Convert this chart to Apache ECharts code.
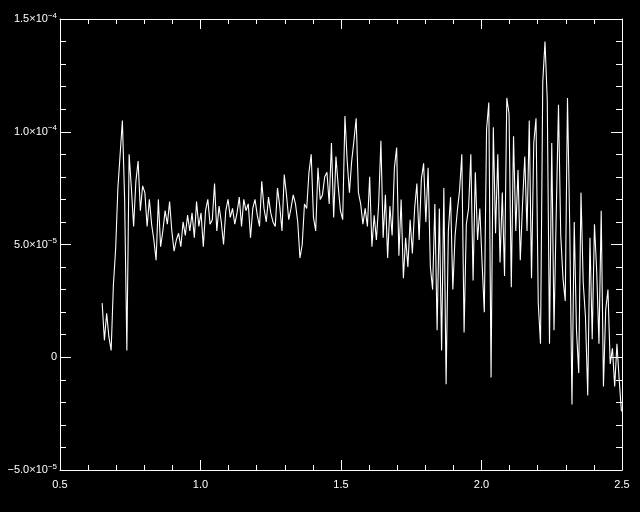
<!DOCTYPE html>
<html>
<head>
<meta charset="utf-8">
<style>
  html, body { margin: 0; padding: 0; background: #000; }
  #chart { width: 640px; height: 512px; }
</style>
<script src="https://cdn.jsdelivr.net/npm/echarts@6/dist/echarts.min.js"></script>
</head>
<body>
<div id="chart"></div>
<script>
// Wavelength sampling grid (uniform)
const X_START = 0.65;
const X_STEP = 0.008;

// Flux values, in units of 1e-5
const FLUX_E5 = [
  2.4, 0.75, 1.95, 0.9, 0.3, 3.2, 4.8, 7.5, 9.0, 10.5,
  7.0, 0.3, 9.0, 7.5, 5.8, 7.8, 8.7, 6.5, 7.6, 7.3,
  5.8, 7.0, 5.9, 5.2, 4.3, 7.0, 4.9, 5.6, 6.5, 5.9,
  6.9, 5.6, 4.7, 5.2, 5.5, 4.9, 6.0, 5.4, 6.3, 5.6,
  6.4, 5.3, 6.9, 5.8, 6.4, 4.9, 6.5, 7.0, 5.9, 6.1,
  7.7, 5.6, 6.7, 6.0, 5.0, 6.5, 7.0, 6.2, 6.6, 5.9,
  6.4, 7.1, 5.8, 7.0, 6.5, 6.8, 5.3, 6.6, 7.0, 6.3,
  5.8, 7.8, 6.6, 6.0, 7.1, 6.4, 6.0, 5.8, 7.5, 6.7,
  5.6, 8.1, 7.2, 6.1, 6.6, 7.2, 6.8, 6.0, 4.4, 5.0,
  6.8, 6.6, 8.2, 9.0, 6.2, 5.6, 8.4, 7.0, 7.2, 8.0,
  8.2, 6.8, 9.5, 6.2, 8.9, 7.6, 6.5, 6.1, 10.7, 8.7,
  7.3, 8.7, 9.6, 10.6, 7.3, 6.8, 5.9, 6.6, 5.8, 8.0,
  4.9, 6.3, 5.2, 6.8, 9.6, 5.3, 7.2, 4.4, 6.7, 5.4,
  8.4, 9.3, 4.5, 7.0, 3.5, 5.3, 4.0, 6.1, 4.6, 6.6,
  7.7, 5.2, 7.9, 8.6, 6.0, 8.4, 4.0, 3.0, 6.8, 1.2,
  6.6, 0.3, 7.5, -1.2, 5.6, 7.1, 3.0, 5.4, 6.5, 7.4,
  9.0, 1.1, 5.9, 6.6, 9.0, 3.4, 8.2, 5.2, 6.6, 4.2,
  2.0, 10.1, 11.3, -0.9, 10.2, 5.5, 9.0, 4.2, 7.3, 3.6,
  11.5, 10.8, 3.1, 9.8, 5.6, 8.3, 4.3, 6.8, 8.9, 5.6,
  10.5, 3.5, 9.5, 10.6, 2.4, 0.6, 12.2, 14.0, 11.4, 0.6,
  9.5, 1.2, 6.4, 11.2, 5.4, 3.5, 2.5, 11.5, 5.8, -2.1,
  6.0, 1.2, -0.7, 7.3, 3.3, 1.8, -1.7, 5.3, 0.8, 5.9,
  3.8, 0.6, 6.5, -1.3, 2.1, 3.0, -0.3, 0.4, -1.3, 0.6,
  -1.0, -2.4
];

// Tick labels
const X_TICKS = ['0.5', '1.0', '1.5', '2.0', '2.5'];
// [mantissa part, exponent] for y ticks at -5, 0, 5, 10, 15 (x1e-5)
const Y_TICKS = [
  ['\u22125.0\u00d710', '\u22125'],
  ['0', ''],
  ['5.0\u00d710', '\u22125'],
  ['1.0\u00d710', '\u22124'],
  ['1.5\u00d710', '\u22124']
];

const FONT = 'Liberation Sans';
const WHITE = '#ffffff';

const data = FLUX_E5.map((v, i) => [X_START + i * X_STEP, v]);

const chart = echarts.init(document.getElementById('chart'), null, { renderer: 'canvas' });

const commonAxisLine = { show: true, onZero: false, lineStyle: { color: WHITE, width: 1 } };

const option = {
  backgroundColor: '#000000',
  animation: false,
  grid: { left: 60, right: 18, top: 19, bottom: 42, containLabel: false },
  xAxis: [
    {
      type: 'value', min: 0.5, max: 2.5, interval: 0.5, position: 'bottom',
      axisLine: commonAxisLine,
      axisTick: { show: true, inside: true, length: 10, lineStyle: { color: WHITE } },
      minorTick: { show: true, splitNumber: 5, length: 5, lineStyle: { color: WHITE } },
      splitLine: { show: false },
      minorSplitLine: { show: false },
      axisLabel: {
        show: true, margin: 9, color: WHITE, fontFamily: FONT, fontSize: 11,
        formatter: function (v) { return X_TICKS[Math.round((v - 0.5) / 0.5)]; }
      }
    },
    {
      type: 'value', min: 0.5, max: 2.5, interval: 0.5, position: 'top',
      axisLine: commonAxisLine,
      axisTick: { show: true, inside: true, length: 10, lineStyle: { color: WHITE } },
      minorTick: { show: true, splitNumber: 5, length: 5, lineStyle: { color: WHITE } },
      splitLine: { show: false },
      axisLabel: { show: false }
    }
  ],
  yAxis: [
    {
      type: 'value', min: -5, max: 15, interval: 5, position: 'left',
      axisLine: commonAxisLine,
      axisTick: { show: true, inside: true, length: 11, lineStyle: { color: WHITE } },
      minorTick: { show: true, splitNumber: 5, length: 6, lineStyle: { color: WHITE } },
      splitLine: { show: false },
      minorSplitLine: { show: false },
      axisLabel: {
        show: true, margin: 3, color: WHITE, fontFamily: FONT, fontSize: 11,
        formatter: function (v) {
          const t = Y_TICKS[Math.round((v + 5) / 5)];
          return t[1] ? '{m|' + t[0] + '}{s|' + t[1] + '}' : '{m|' + t[0] + '}';
        },
        rich: {
          m: { fontFamily: FONT, fontSize: 11, color: WHITE },
          s: { fontFamily: FONT, fontSize: 8, color: WHITE, padding: [0, 0, 7, 0] }
        }
      }
    },
    {
      type: 'value', min: -5, max: 15, interval: 5, position: 'right',
      axisLine: commonAxisLine,
      axisTick: { show: true, inside: true, length: 11, lineStyle: { color: WHITE } },
      minorTick: { show: true, splitNumber: 5, length: 6, lineStyle: { color: WHITE } },
      splitLine: { show: false },
      axisLabel: { show: false }
    }
  ],
  series: [
    {
      type: 'line',
      xAxisIndex: 0,
      yAxisIndex: 0,
      data: data,
      showSymbol: false,
      symbol: 'none',
      smooth: false,
      clip: true,
      lineStyle: { color: WHITE, width: 1.1 },
      emphasis: { disabled: true }
    }
  ]
};

chart.setOption(option);
</script>
</body>
</html>
